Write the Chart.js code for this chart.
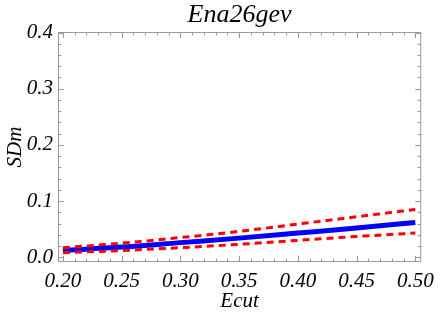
<!DOCTYPE html>
<html>
<head>
<meta charset="utf-8">
<script src="https://cdn.jsdelivr.net/npm/chart.js@4"></script>
<style>
  html, body { margin: 0; padding: 0; background: #fff; }
  #wrap { width: 441px; height: 316px; }
</style>
</head>
<body>
<div id="wrap"><canvas id="chart" width="441" height="316"></canvas></div>
<script>
// values
const ecut = [0.20, 0.25, 0.30, 0.35, 0.40, 0.45, 0.50];
const sdmCentral = [0.012, 0.018, 0.026, 0.034, 0.043, 0.052, 0.062];
const sdmUpper = [0.017, 0.025, 0.035, 0.046, 0.059, 0.072, 0.085];
const sdmLower = [0.008, 0.012, 0.017, 0.023, 0.030, 0.037, 0.043];

const xTickValues = [0.20, 0.25, 0.30, 0.35, 0.40, 0.45, 0.50];
const yTickValues = [0.0, 0.1, 0.2, 0.3, 0.4];

const serif = "'Liberation Serif', 'DejaVu Serif', serif";
const frameColor = '#9a9a9a';

function pts(ys) {
  return ecut.map((x, i) => ({ x: x, y: ys[i] }));
}

// frame + inward major/minor ticks, Mathematica style
const frameTicks = {
  id: 'frameTicks',
  afterDatasetsDraw(chart) {
    const { ctx, chartArea: a, scales } = chart;
    const xs = scales.x, ys = scales.y;
    ctx.save();
    ctx.strokeStyle = frameColor;
    ctx.lineWidth = 1;
    ctx.strokeRect(a.left + 0.5, a.top + 0.5, a.right - a.left - 1, a.bottom - a.top - 1);
    ctx.beginPath();
    // x ticks: majors every 0.05, 4 minors in between
    for (let i = 0; i < xTickValues.length; i++) {
      for (let k = 0; k < 5; k++) {
        if (i === xTickValues.length - 1 && k > 0) break;
        const v = xTickValues[i] + k * 0.01;
        const px = Math.round(xs.getPixelForValue(v)) + 0.5;
        const len = k === 0 ? 6 : 3.5;
        ctx.moveTo(px, a.bottom); ctx.lineTo(px, a.bottom - len);
        ctx.moveTo(px, a.top); ctx.lineTo(px, a.top + len);
      }
    }
    // y ticks: majors every 0.1, 4 minors in between
    for (let i = 0; i < yTickValues.length; i++) {
      for (let k = 0; k < 5; k++) {
        if (i === yTickValues.length - 1 && k > 0) break;
        const v = yTickValues[i] + k * 0.02;
        const py = Math.round(ys.getPixelForValue(v)) + 0.5;
        const len = k === 0 ? 6 : 3.5;
        ctx.moveTo(a.left, py); ctx.lineTo(a.left + len, py);
        ctx.moveTo(a.right, py); ctx.lineTo(a.right - len, py);
      }
    }
    ctx.stroke();
    ctx.restore();
  }
};

new Chart(document.getElementById('chart'), {
  type: 'line',
  data: {
    datasets: [
      {
        label: 'upper',
        data: pts(sdmUpper),
        borderColor: '#ff0000',
        borderWidth: 3,
        borderDash: [7, 5],
        pointRadius: 0,
        cubicInterpolationMode: 'monotone'
      },
      {
        label: 'lower',
        data: pts(sdmLower),
        borderColor: '#ff0000',
        borderWidth: 3,
        borderDash: [7, 5],
        pointRadius: 0,
        cubicInterpolationMode: 'monotone'
      },
      {
        label: 'SDm',
        data: pts(sdmCentral),
        borderColor: '#0000ff',
        borderWidth: 5,
        pointRadius: 0,
        cubicInterpolationMode: 'monotone'
      }
    ]
  },
  plugins: [frameTicks],
  options: {
    responsive: false,
    animation: false,
    layout: { padding: { left: 0, right: 13, top: 0, bottom: 0 } },
    plugins: {
      legend: { display: false },
      tooltip: { enabled: false },
      title: { display: false }
    },
    scales: {
      x: {
        type: 'linear',
        position: 'bottom',
        min: 0.1958,
        max: 0.505,
        afterBuildTicks: s => { s.ticks = xTickValues.map(v => ({ value: v })); },
        afterFit: s => { s.height = 54; },
        grid: { display: false, drawTicks: false },
        border: { display: false },
        ticks: {
          padding: 7,
          color: '#000',
          font: { family: serif, size: 21, style: 'italic' },
          callback: v => Number(v).toFixed(2)
        },
        title: {
          display: true,
          text: 'Ecut',
          color: '#000',
          font: { family: serif, size: 21, style: 'italic' },
          padding: { top: 0, bottom: 2 }
        }
      },
      xTop: {
        type: 'linear',
        position: 'top',
        min: 0.1958,
        max: 0.505,
        afterFit: s => { s.height = 32; },
        grid: { display: false, drawTicks: false },
        border: { display: false },
        ticks: { display: false },
        title: {
          display: true,
          text: 'Ena26gev',
          color: '#000',
          font: { family: serif, size: 26, style: 'italic' },
          padding: { top: 0, bottom: 0 }
        }
      },
      y: {
        type: 'linear',
        min: -0.0085,
        max: 0.401,
        afterBuildTicks: s => { s.ticks = yTickValues.map(v => ({ value: v })); },
        afterFit: s => { s.width = 58; },
        grid: { display: false, drawTicks: false },
        border: { display: false },
        ticks: {
          padding: 5,
          color: '#000',
          font: { family: serif, size: 21, style: 'italic' },
          callback: v => Number(v).toFixed(1)
        },
        title: {
          display: true,
          text: 'SDm',
          color: '#000',
          font: { family: serif, size: 21, style: 'italic' },
          padding: { top: 3, bottom: 0 }
        }
      }
    }
  }
});
</script>
</body>
</html>
